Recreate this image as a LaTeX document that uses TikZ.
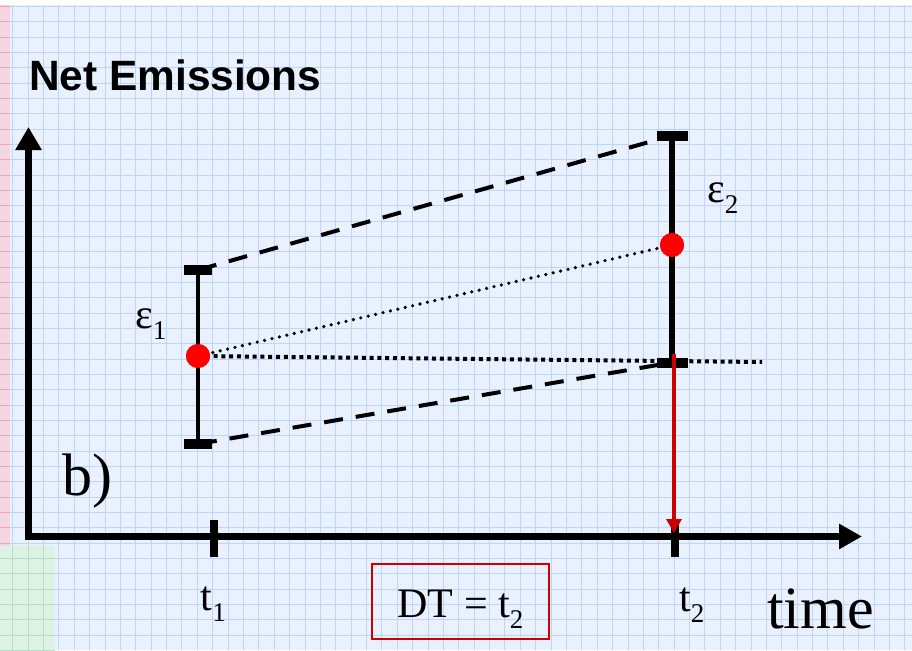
\documentclass[tikz,border=0pt]{standalone}
\usepackage{fontspec}
\setmainfont{Liberation Serif}
\setsansfont{Liberation Sans}
\usetikzlibrary{arrows.meta}
\definecolor{bgblue}{RGB}{232,241,253}
\definecolor{gridblue}{RGB}{190,213,247}
\definecolor{pinkbg}{RGB}{244,214,226}
\definecolor{pinkline}{RGB}{238,165,182}
\definecolor{greenbg}{RGB}{222,242,228}
\definecolor{greenline}{RGB}{182,222,198}
\definecolor{dotred}{RGB}{255,0,0}
\definecolor{darkred}{RGB}{204,0,0}
\newcommand{\lsub}[1]{\raisebox{-11pt}{\fontsize{27}{27}\selectfont #1}}
\tikzset{
  axis/.style={line width=7pt, line join=miter},
  ticksty/.style={line width=8pt},
  errbar/.style={line width=4pt},
  errbartwo/.style={line width=5.5pt},
  capsty/.style={line width=10pt},
  dashline/.style={line width=4pt, dash pattern=on 19pt off 13pt},
  dotslant/.style={line width=3.6pt, line cap=round, dash pattern=on 0pt off 7.6pt},
  dotflat/.style={line width=4pt, dash pattern=on 4pt off 3.8pt},
  reddot/.style={circle, fill=dotred, minimum size=24pt, inner sep=0pt},
  lab/.style={inner sep=0pt, anchor=base west, font=\fontsize{42}{42}\selectfont},
  biglab/.style={inner sep=0pt, anchor=base west, font=\fontsize{60}{60}\selectfont},
  redarrow/.style={draw=darkred, line width=3.5pt, -{Triangle[length=14pt,width=15pt]}},
  dtbox/.style={draw=darkred, line width=2pt, inner sep=0pt, minimum width=177pt, minimum height=75pt,
     text height=42pt, text depth=11pt, font=\fontsize{42}{42}\selectfont}
}
\begin{document}
\begin{tikzpicture}[x=1pt,y=-1pt]
\useasboundingbox (0,0) rectangle (912,650);
% background paper
\fill[white] (0,0) rectangle (912,650);
\fill[bgblue] (0,5) rectangle (912,650);
\foreach \i in {0,...,58} \draw[gridblue, line width=0.8pt] ({12.7+15.38*\i},5) -- ({12.7+15.38*\i},650);
\foreach \j in {0,...,41} \draw[gridblue, line width=0.8pt] (0,{6.4+15.33*\j}) -- (912,{6.4+15.33*\j});
\begin{scope}
  \clip (0,5) rectangle (10,546);
  \fill[pinkbg] (0,5) rectangle (10,546);
  \foreach \j in {0,...,41} \draw[pinkline, line width=0.8pt] (0,{6.4+15.33*\j}) -- (10,{6.4+15.33*\j});
\end{scope}
\begin{scope}
  \clip (0,546) rectangle (55,650);
  \fill[greenbg] (0,546) rectangle (55,650);
  \foreach \i in {0,...,3} \draw[greenline, line width=0.8pt] ({12.7+15.38*\i},546) -- ({12.7+15.38*\i},650);
  \foreach \j in {35,...,42} \draw[greenline, line width=0.8pt] (0,{6.4+15.33*\j}) -- (55,{6.4+15.33*\j});
\end{scope}

% coordinates
\coordinate (O) at (28.5,536.5);
\coordinate (ytip) at (28.5,127);
\coordinate (xtip) at (862,536.5);
\coordinate (t1a) at (214,520);
\coordinate (t1b) at (214,557);
\coordinate (t2a) at (674.5,520);
\coordinate (t2b) at (674.5,557);
\coordinate (b1top) at (198,270);
\coordinate (b1bot) at (198,444);
\coordinate (b2top) at (672,135.5);
\coordinate (b2bot) at (672,362.5);
\coordinate (hend) at (762,362);
\coordinate (rstart) at (674,354);
\coordinate (rend) at (674,533);

% axes
\draw[axis, {Triangle[length=23pt,width=25pt]}-{Triangle[length=23pt,width=24pt]}] (ytip) -- (O) -- (xtip);
\draw[ticksty] (t1a) -- (t1b);
\draw[ticksty] (t2a) -- (t2b);

% dots (nodes)
\node[reddot] (d1) at (198,356) {};
\node[reddot] (d2) at (672,245) {};

% envelope lines
\draw[dashline] (b1top) -- (b2top);
\draw[dashline] (b1bot) -- (b2bot);
\draw[dotslant] (d1.center) -- (d2.center);
\draw[dotflat] (d1.center) -- (hend);

% error bars
\draw[errbar] (b1top) -- (b1bot);
\draw[errbartwo] (b2top) -- (b2bot);
\draw[capsty] ([xshift=-14pt]b1top) -- ([xshift=14pt]b1top);
\draw[capsty] ([xshift=-14pt]b1bot) -- ([xshift=14pt]b1bot);
\draw[capsty] ([xshift=-15pt]b2top) -- ([xshift=15.5pt]b2top);
\draw[capsty] ([xshift=-15pt]b2bot) -- ([xshift=15.5pt]b2bot);

% dots on top
\node[reddot] at (d1) {};
\node[reddot] at (d2) {};

% red arrow
\draw[redarrow] (rstart) -- (rend);

% labels
\node[inner sep=0pt, anchor=base west, font=\sffamily\bfseries\fontsize{42.4}{42}\selectfont] (title) at (29,91) {Net Emissions};
\node[lab] (eps1) at (135,328) {ε\lsub{1}};
\node[lab] (eps2) at (707,202.5) {ε\lsub{2}};
\node[lab] (t1) at (200.5,610.7) {t\lsub{1}};
\node[lab] (t2) at (679,611) {t\lsub{2}};
\node[biglab] (time) at (767,628) {time};
\node[biglab] (bl) at (62,495) {b)};
\node[dtbox] (dt) at (460.5,601.5) {DT = t\lsub{2}};
\end{tikzpicture}
\end{document}
